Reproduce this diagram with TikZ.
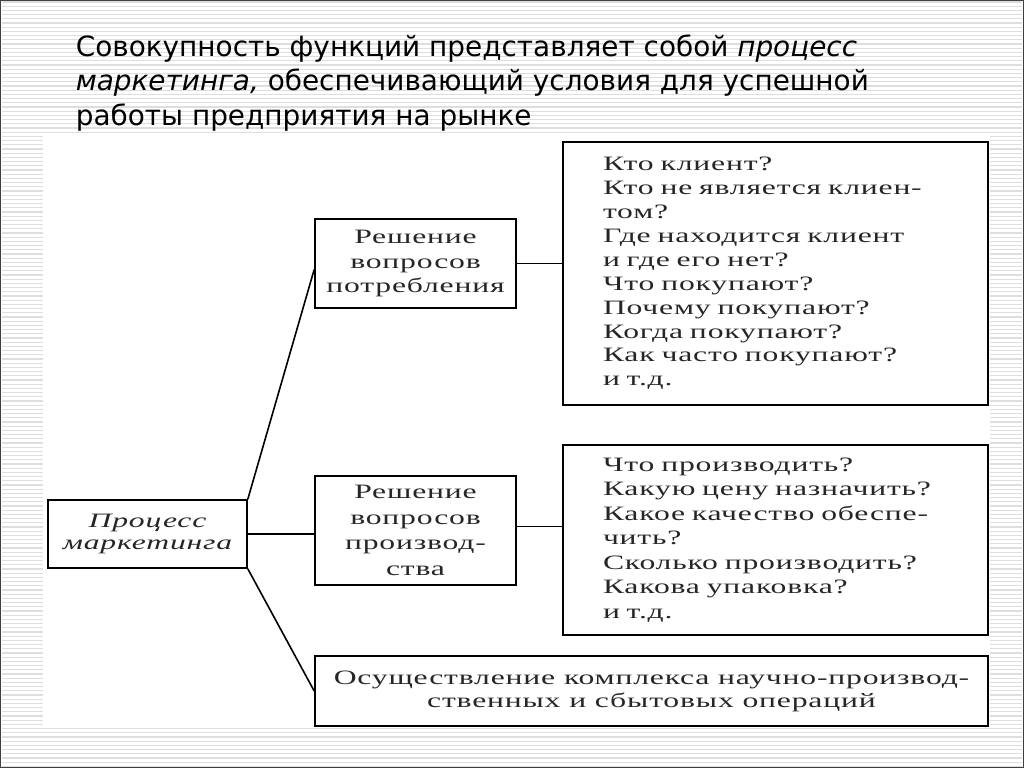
\documentclass[tikz,border=0pt]{standalone}
\usepackage{fontspec}
\setmainfont{Liberation Serif}
\newfontfamily\titlefont{DejaVu Sans}
\newfontfamily\boxfont[FakeStretch=1.55,LetterSpace=4]{Liberation Serif}
\usetikzlibrary{positioning}

\begin{document}
\begin{tikzpicture}[x=1bp, y=-1bp, line width=1.6bp,
  main/.style = {draw, inner sep=0pt, align=center, text=black!85,
    font=\boxfont\fontsize{20.5}{24.5}\selectfont},
  list/.style = {main, align=left, text width=345bp, minimum width=425bp,
    font=\boxfont\fontsize{20.5}{24}\selectfont},
  head/.style = {anchor=base west, inner sep=0pt,
    font=\titlefont\fontsize{28}{34}\selectfont}]
  \useasboundingbox (0,0) rectangle (1024,768);
  % slide background
  \fill[white] (0,0) rectangle (1024,768);
  \foreach \y in {2,6.2,...,768}
    \draw[black!13, line width=1.2bp] (2,\y) -- (1022,\y);
  \fill[white] (43,135) rectangle (990,728);
  \draw[black!75, line width=2.5bp] (0,0) rectangle (1024,768);

  % title
  \node[head] (t1) at (75,57) {Совокупность функций представляет собой \textit{процесс}};
  \node[head] (t2) at (75,91) {\textit{маркетинга,} обеспечивающий условия для успешной};
  \node[head] (t3) at (75,125) {работы предприятия на рынке};

  % boxes
  \node[main, minimum width=199bp, minimum height=68bp,
    font=\boxfont\itshape\fontsize{20.5}{22}\selectfont] (proc) at (147.5,534) {Процесс\\маркетинга};
  \node[main, minimum width=201bp, minimum height=89bp] (cons) at (415.5,263.5) {Решение\\вопросов\\потребления};
  \node[main, minimum width=201bp, minimum height=109bp,
    font=\boxfont\fontsize{20.5}{25.5}\selectfont] (prod) at (415.5,530.5) {Решение\\вопросов\\производ-\\ства};
  \node[main, minimum width=673bp, minimum height=70bp,
    font=\boxfont\fontsize{20.5}{23}\selectfont] (oper) at (651.5,691) {Осуществление комплекса научно-производ-\\ственных и сбытовых операций};
  \node[list, minimum height=263bp] (qcons) at (775.5,273.5) {Кто клиент?\\Кто не является клиен-\\том?\\Где находится клиент\\и где его нет?\\Что покупают?\\Почему покупают?\\Когда покупают?\\Как часто покупают?\\и т.д.};
  \node[list, minimum height=190bp, font=\boxfont\fontsize{20.5}{24.5}\selectfont] (qprod) at (775.5,540) {Что производить?\\Какую цену назначить?\\Какое качество обеспе-\\чить?\\Сколько производить?\\Какова упаковка?\\и т.д.};

  % connectors
  \draw (proc.north east) -- ([yshift=-6bp]cons.west);
  \draw (proc.east) -- (proc.east -| prod.west);
  \draw (proc.south east) -- (oper.west);
  \draw (cons.east) -- (cons.east -| qcons.west);
  \draw ([yshift=4bp]prod.east) -- ([yshift=4bp]prod.east -| qprod.west);
\end{tikzpicture}
\end{document}
